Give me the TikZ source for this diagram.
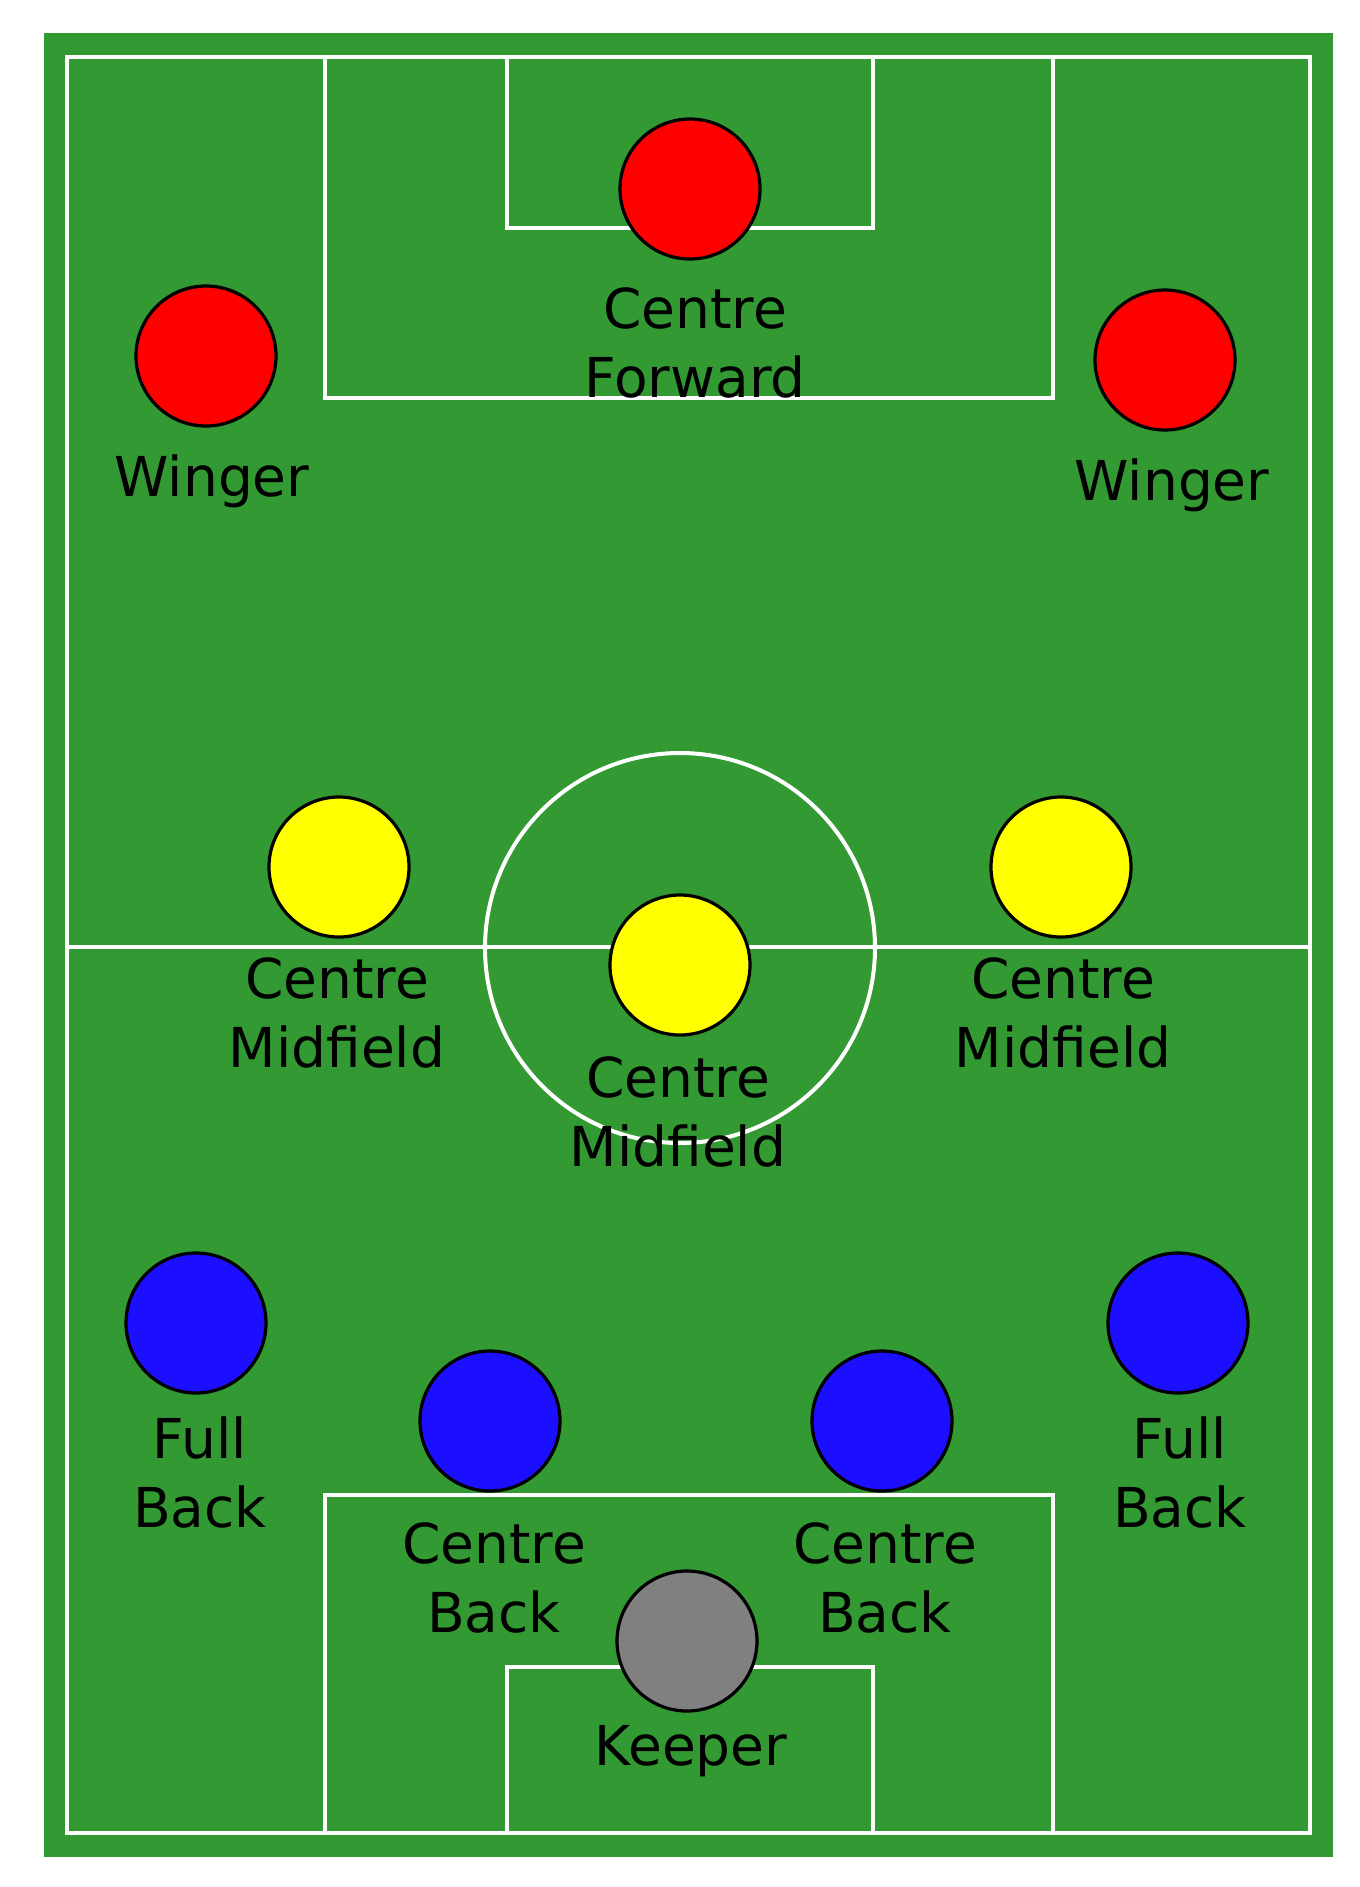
\documentclass[tikz,border=0pt]{standalone}
\usepackage{fontspec}
\setmainfont{DejaVu Sans}
\definecolor{pitchgreen}{RGB}{51,153,51}
\definecolor{pred}{RGB}{255,0,0}
\definecolor{pyellow}{RGB}{255,255,0}
\definecolor{pblue}{RGB}{28,14,255}
\definecolor{pgrey}{RGB}{128,128,128}
\begin{document}
\begin{tikzpicture}[x=0.5pt,y=-0.5pt,
  markline/.style={draw=white, line width=2pt},
  player/.style={circle, draw=black, line width=1.6pt, minimum size=70pt, inner sep=0pt},
  lbl/.style={anchor=base, align=center, inner sep=0pt, font=\fontsize{27.5pt}{34.5pt}\selectfont, text=black}]
\useasboundingbox (0,0) rectangle (1360,1887);
% pitch
\fill[pitchgreen] (44,33) rectangle (1333,1857);
\draw[markline] (67,57) rectangle (1310,1833);
\draw[markline] (67,947) -- (1310,947);
\draw[markline] (680,948) circle[radius=97.5pt];
% top boxes
\draw[markline] (325,57) -- (325,398) -- (1053,398) -- (1053,57);
\draw[markline] (507,57) -- (507,228) -- (873,228) -- (873,57);
% bottom boxes
\draw[markline] (325,1833) -- (325,1495) -- (1053,1495) -- (1053,1833);
\draw[markline] (507,1833) -- (507,1667) -- (873,1667) -- (873,1833);
% players
\node[player, fill=pred] (cf) at (690,189) {};
\node[player, fill=pred] (wl) at (206,356) {};
\node[player, fill=pred] (wr) at (1165,360) {};
\node[player, fill=pyellow] (cml) at (339,867) {};
\node[player, fill=pyellow] (cmr) at (1061,867) {};
\node[player, fill=pyellow] (cmc) at (680,965) {};
\node[player, fill=pblue] (fbl) at (196,1323) {};
\node[player, fill=pblue] (fbr) at (1178,1323) {};
\node[player, fill=pblue] (cbl) at (490,1421) {};
\node[player, fill=pblue] (cbr) at (882,1421) {};
\node[player, fill=pgrey] (gk) at (687,1641) {};
% labels (two-line labels anchored at the baseline of their last line)
\node[lbl] (tcf) at (695,397) {Centre\\Forward};
\node[lbl] (twl) at (212,496) {Winger};
\node[lbl] (twr) at (1172,500) {Winger};
\node[lbl] (tcml) at (337,1067) {Centre\\Midfield};
\node[lbl] (tcmr) at (1063,1067) {Centre\\Midfield};
\node[lbl] (tcmc) at (678,1166) {Centre\\Midfield};
\node[lbl] (tfbl) at (200,1527) {Full\\Back};
\node[lbl] (tfbr) at (1180,1527) {Full\\Back};
\node[lbl] (tcbl) at (494,1632) {Centre\\Back};
\node[lbl] (tcbr) at (885,1632) {Centre\\Back};
\node[lbl] (tgk) at (691,1765) {Keeper};
\end{tikzpicture}
\end{document}
